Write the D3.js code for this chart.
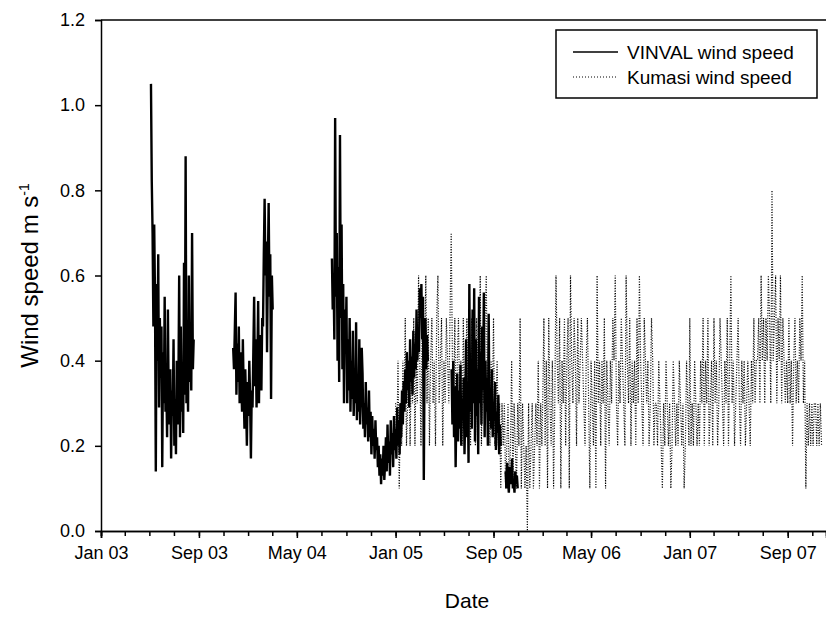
<!DOCTYPE html>
<html>
<head>
<meta charset="utf-8">
<script src="https://cdn.jsdelivr.net/npm/d3@7"></script>
<style>
  body { margin: 0; background: #fff; }
  svg { display: block; font-family: "Liberation Sans", Arial, sans-serif; }
</style>
</head>
<body>
<div id="chart"></div>
<script>
// VINVAL wind speed, one reading every 2 days, in separate runs with gaps
const vinvalStarts = ["2003-05-05", "2003-11-25", "2004-07-27", "2005-05-20", "2005-10-01"];
const vinvalStep = 2;
const vinval1 = [1.05, 0.82, 0.70, 0.48, 0.72, 0.55, 0.14, 0.58, 0.40, 0.65, 0.29, 0.50, 0.36, 0.48, 0.15, 0.42, 0.30, 0.55,
    0.28, 0.35, 0.22, 0.52, 0.30, 0.25, 0.38, 0.17, 0.33, 0.27, 0.45, 0.20, 0.31, 0.18, 0.40, 0.25, 0.33, 0.60, 0.22, 0.48,
    0.28, 0.38, 0.23, 0.63, 0.32, 0.88, 0.30, 0.42, 0.28, 0.60, 0.35, 0.45, 0.33, 0.70, 0.38, 0.45];
const vinval2 = [0.43, 0.38, 0.47, 0.56, 0.32, 0.44, 0.35, 0.48, 0.30, 0.42, 0.36, 0.28, 0.45, 0.33, 0.24, 0.38, 0.30, 0.20,
    0.35, 0.27, 0.40, 0.31, 0.17, 0.33, 0.29, 0.42, 0.55, 0.34, 0.45, 0.29, 0.39, 0.54, 0.30, 0.46, 0.40, 0.33, 0.50, 0.48,
    0.65, 0.78, 0.60, 0.68, 0.42, 0.62, 0.77, 0.55, 0.65, 0.31, 0.60, 0.52];
const vinval3 = [0.64, 0.52, 0.60, 0.45, 0.97, 0.55, 0.70, 0.40, 0.62, 0.35,
    0.93, 0.50, 0.72, 0.38, 0.58, 0.30, 0.52, 0.42, 0.55, 0.30,
    0.45, 0.33, 0.50, 0.28, 0.40, 0.31, 0.47, 0.27, 0.36, 0.30,
    0.49, 0.26, 0.34, 0.28, 0.45, 0.25, 0.32, 0.43, 0.37, 0.24,
    0.30, 0.22, 0.35, 0.25, 0.29, 0.21, 0.33, 0.22, 0.28, 0.18,
    0.27, 0.20, 0.24, 0.17, 0.26, 0.19, 0.22, 0.15, 0.20, 0.13,
    0.18, 0.11, 0.17, 0.13, 0.20, 0.12, 0.16, 0.22, 0.14, 0.25,
    0.16, 0.21, 0.13, 0.26, 0.18, 0.23, 0.15, 0.27, 0.19, 0.24,
    0.17, 0.29, 0.20, 0.26, 0.18, 0.30, 0.22, 0.33, 0.25, 0.35,
    0.28, 0.38, 0.30, 0.42, 0.33, 0.40, 0.29, 0.45, 0.35, 0.41,
    0.32, 0.47, 0.36, 0.44, 0.38, 0.52, 0.40, 0.48, 0.42, 0.57,
    0.50, 0.58, 0.45, 0.55, 0.12, 0.42, 0.50, 0.38, 0.46, 0.40];
const vinval4 = [0.38, 0.25, 0.40, 0.22, 0.34, 0.15, 0.30, 0.37, 0.21, 0.33,
    0.24, 0.39, 0.20, 0.31, 0.26, 0.36, 0.18, 0.29, 0.45, 0.22,
    0.35, 0.16, 0.58, 0.28, 0.40, 0.24, 0.52, 0.30, 0.57, 0.21,
    0.45, 0.27, 0.38, 0.18, 0.55, 0.30, 0.42, 0.25, 0.48, 0.33,
    0.56, 0.22, 0.40, 0.28, 0.36, 0.20, 0.51, 0.26, 0.33, 0.24,
    0.38, 0.22, 0.30, 0.26, 0.35, 0.19, 0.28, 0.23, 0.32, 0.18, 0.25, 0.20];
const vinval5 = [0.14, 0.10, 0.16, 0.12, 0.09, 0.15, 0.11, 0.13, 0.17, 0.10, 0.12, 0.09, 0.14, 0.11, 0.13, 0.10];

// Kumasi wind speed, one reading every 3 days from 1 Jan of each year
const kumasiStarts = ["2005-01-01", "2006-01-01", "2007-01-01"];
const kumasiStep = 3;
const kumasi2005 = [0.3, 0.2, 0.4, 0.1, 0.3, 0.2, 0.4, 0.3, 0.5, 0.2, 0.3, 0.4, 0.2,
    0.4, 0.3, 0.5, 0.2, 0.4, 0.3, 0.6, 0.4, 0.2, 0.5, 0.3, 0.4, 0.6, 0.3, 0.5, 0.2,
    0.4, 0.5, 0.3, 0.4, 0.2, 0.5, 0.6, 0.3, 0.4, 0.5, 0.2, 0.4, 0.3, 0.5, 0.4, 0.3, 0.5, 0.7,
    0.4, 0.3, 0.5, 0.2, 0.4, 0.5, 0.3, 0.4, 0.2, 0.5, 0.3, 0.4, 0.5, 0.3,
    0.4, 0.2, 0.5, 0.3, 0.4, 0.2, 0.5, 0.4, 0.3, 0.6, 0.2, 0.4, 0.3, 0.5, 0.6, 0.3, 0.4, 0.2,
    0.4, 0.3, 0.5, 0.2, 0.3, 0.4, 0.2, 0.3, 0.1, 0.3, 0.2, 0.3, 0.1, 0.2,
    0.3, 0.1, 0.2, 0.4, 0.1, 0.3, 0.2, 0.1, 0.3, 0.2, 0.5, 0.1, 0.3, 0.2,
    0.1, 0.2, 0.0, 0.3, 0.1, 0.2, 0.3, 0.1, 0.2, 0.3, 0.2, 0.4, 0.1, 0.3, 0.2];
const kumasi2006 = [0.3, 0.5, 0.2, 0.4, 0.1, 0.5, 0.3, 0.2, 0.4, 0.1, 0.3, 0.6,
    0.4, 0.3, 0.5, 0.1, 0.4, 0.3, 0.5, 0.2, 0.4, 0.5, 0.1, 0.6, 0.4, 0.3, 0.5, 0.4, 0.2, 0.5, 0.3, 0.4, 0.5,
    0.4, 0.3, 0.2, 0.4, 0.5, 0.3, 0.1, 0.4, 0.3, 0.2, 0.4, 0.1, 0.6, 0.3, 0.4, 0.2, 0.4, 0.3, 0.5, 0.1,
    0.4, 0.3, 0.2, 0.4, 0.3, 0.5, 0.4, 0.6, 0.3, 0.2, 0.4, 0.3, 0.5, 0.4, 0.3, 0.2, 0.6,
    0.4, 0.3, 0.5, 0.2, 0.4, 0.3, 0.4, 0.2, 0.5, 0.3, 0.6, 0.4, 0.3, 0.2, 0.5, 0.4, 0.3, 0.4, 0.2, 0.3, 0.5, 0.4, 0.2, 0.3,
    0.3, 0.2, 0.4, 0.3, 0.2, 0.1, 0.3, 0.2, 0.4, 0.3, 0.2, 0.3, 0.1, 0.2, 0.4, 0.3, 0.2, 0.3, 0.2, 0.4, 0.3, 0.2, 0.3, 0.1,
    0.2, 0.4, 0.3, 0.2];
const kumasi2007 = [0.5, 0.2, 0.3, 0.2, 0.4, 0.3, 0.2, 0.3, 0.2,
    0.4, 0.3, 0.5, 0.2, 0.4, 0.3, 0.5, 0.2, 0.3, 0.4, 0.2, 0.5, 0.3, 0.4, 0.2, 0.3, 0.5, 0.4, 0.3, 0.2,
    0.4, 0.3, 0.5, 0.2, 0.4, 0.6, 0.3, 0.4, 0.2, 0.3, 0.4, 0.5, 0.3, 0.2, 0.4, 0.3, 0.4, 0.2, 0.3, 0.4,
    0.3, 0.2, 0.4, 0.3, 0.5, 0.3, 0.4,
    0.4, 0.5, 0.3, 0.6, 0.4, 0.5, 0.3, 0.5, 0.4, 0.6, 0.5, 0.3, 0.8, 0.4, 0.5, 0.6, 0.3, 0.5, 0.4, 0.6, 0.3, 0.5, 0.4, 0.3,
    0.4, 0.3, 0.5, 0.3, 0.4, 0.2, 0.4, 0.5, 0.3, 0.4, 0.3, 0.5, 0.4, 0.6, 0.3, 0.4, 0.1,
    0.3, 0.2, 0.3, 0.2, 0.3, 0.2, 0.3, 0.3, 0.2, 0.3, 0.2, 0.3, 0.2];

const yTicks = [0.0, 0.2, 0.4, 0.6, 0.8, 1.0, 1.2];
const xStart = "2003-01-01";
const xEnd = "2007-12-05";
const legendLabels = ["VINVAL wind speed", "Kumasi wind speed"];

const parse = d3.utcParse("%Y-%m-%d");

function toPoints(start, step, values) {
    const t0 = parse(start);
    return values.map((v, i) => ({ date: d3.utcDay.offset(t0, i * step), value: v }));
}

const vinvalRuns = [vinval1, vinval2, vinval3, vinval4, vinval5]
    .map((vals, k) => toPoints(vinvalStarts[k], vinvalStep, vals));
const kumasiRun = [kumasi2005, kumasi2006, kumasi2007]
    .map((vals, k) => toPoints(kumasiStarts[k], kumasiStep, vals))
    .flat();

const width = 826, height = 617;
const margin = { left: 101, right: 826, top: 20, bottom: 531 };
const font = "Liberation Sans, Arial, sans-serif";

const svg = d3.select("#chart").append("svg")
    .attr("width", width)
    .attr("height", height);

const x = d3.scaleUtc().domain([parse(xStart), parse(xEnd)]).range([margin.left, margin.right]);
const y = d3.scaleLinear().domain([0, 1.2]).range([margin.bottom, margin.top]);

const line = d3.line()
    .x(d => x(d.date))
    .y(d => y(d.value));

// Kumasi, dotted
svg.append("path")
    .datum(kumasiRun)
    .attr("fill", "none")
    .attr("stroke", "#000")
    .attr("stroke-width", 1.2)
    .attr("stroke-dasharray", "1,1.6")
    .attr("d", line);

// VINVAL, solid
svg.selectAll(".vinval")
    .data(vinvalRuns)
    .enter()
    .append("path")
    .attr("class", "vinval")
    .attr("fill", "none")
    .attr("stroke", "#000")
    .attr("stroke-width", 2.4)
    .attr("stroke-linejoin", "bevel")
    .attr("d", line);

// frame top
svg.append("line")
    .attr("x1", margin.left).attr("x2", margin.right)
    .attr("y1", margin.top).attr("y2", margin.top)
    .attr("stroke", "#000").attr("stroke-width", 1.5);

// axes: major every 8 months, minor every 2 months, both counted from Jan 03
const majorTicks = d3.utcMonth.range(parse(xStart), parse(xEnd), 8);
const minorTicks = d3.utcMonth.range(parse(xStart), parse(xEnd), 2);
const fmt = d3.utcFormat("%b %y");

const gx = svg.append("g").attr("transform", `translate(0,${margin.bottom})`);
gx.append("g").call(d3.axisBottom(x).tickValues(minorTicks).tickSize(5).tickFormat(""));
gx.append("g").call(d3.axisBottom(x).tickValues(majorTicks).tickSize(7).tickFormat(fmt).tickPadding(8))
    .call(g => g.selectAll("text").attr("font-size", 18).attr("fill", "#000").attr("font-family", font));
gx.selectAll(".domain").attr("stroke-width", 1.5);
gx.selectAll(".tick line").attr("stroke-width", 1.5);

const gy = svg.append("g").attr("transform", `translate(${margin.left},0)`);
gy.call(d3.axisLeft(y).tickValues(yTicks).tickSize(6).tickFormat(d3.format(".1f")).tickPadding(10))
    .call(g => g.selectAll("text").attr("font-size", 18).attr("fill", "#000").attr("font-family", font));
gy.selectAll(".domain").attr("stroke-width", 1.5);
gy.selectAll(".tick line").attr("stroke-width", 1.5);

// axis titles
svg.append("text")
    .attr("x", 467).attr("y", 608)
    .attr("text-anchor", "middle")
    .attr("font-size", 21)
    .text("Date");

const yt = svg.append("text")
    .attr("transform", `translate(38,${(margin.top + margin.bottom) / 2}) rotate(-90)`)
    .attr("text-anchor", "middle")
    .attr("font-size", 24);
yt.append("tspan").text("Wind speed m s");
yt.append("tspan").attr("dy", -9).attr("font-size", 14).text("-1");

// legend
const lg = svg.append("g").attr("transform", "translate(556,30)");
lg.append("rect")
    .attr("width", 261).attr("height", 68)
    .attr("fill", "#fff").attr("stroke", "#000").attr("stroke-width", 1.5);
lg.selectAll(".item")
    .data(legendLabels)
    .enter()
    .append("g")
    .attr("transform", (d, i) => `translate(0,${22 + i * 25})`)
    .each(function(d, i) {
        const g = d3.select(this);
        g.append("line")
            .attr("x1", 17).attr("x2", 62)
            .attr("stroke", "#000")
            .attr("stroke-width", i === 0 ? 1.6 : 1)
            .attr("stroke-dasharray", i === 0 ? null : "1,2");
        g.append("text")
            .attr("x", 71).attr("dy", "0.35em")
            .attr("font-size", 19)
            .text(d);
    });
</script>
</body>
</html>
